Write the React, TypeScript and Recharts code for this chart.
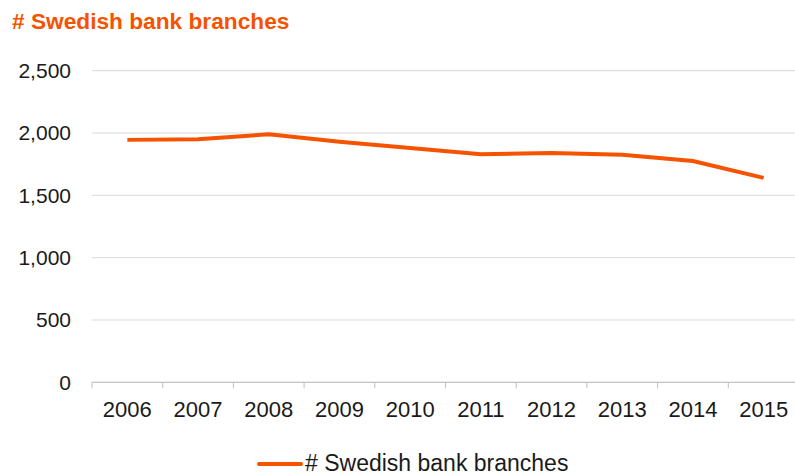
import React from 'react';
import { LineChart, Line, XAxis, YAxis, CartesianGrid } from 'recharts';

const years = ['2006', '2007', '2008', '2009', '2010', '2011', '2012', '2013', '2014', '2015'];
const branches = [1945, 1950, 1990, 1930, 1880, 1830, 1840, 1825, 1775, 1640];
const yTicks = [0, 500, 1000, 1500, 2000, 2500];
const seriesName = '# Swedish bank branches';
const title = '# Swedish bank branches';

const data = years.map((y, i) => ({ year: y, value: branches[i] }));

const ORANGE = '#F55300';
const FONT = '"Liberation Sans", Arial, sans-serif';

const XTick = (props: any) => {
  const { x, y, payload, width, visibleTicksCount, index } = props;
  const band = width / visibleTicksCount;
  const axisY = y - 19;
  return (
    <g>
      <line x1={x - band / 2} x2={x - band / 2} y1={axisY} y2={axisY + 6} stroke="#bfbfbf" />
      {index === visibleTicksCount - 1 && (
        <line x1={x + band / 2} x2={x + band / 2} y1={axisY} y2={axisY + 6} stroke="#bfbfbf" />
      )}
      <text x={x} y={y} dy="0.71em" textAnchor="middle" fontSize={22} fill="#1a1a1a" fontFamily={FONT}>
        {payload.value}
      </text>
    </g>
  );
};

export default function App() {
  return (
    <div style={{ position: 'fixed', left: 0, top: 0, width: 795, height: 474, overflow: 'hidden', background: '#fff', fontFamily: FONT }}>
      <div style={{ position: 'absolute', left: 12, top: 8, fontSize: 22.7, lineHeight: '26px', fontWeight: 'bold', color: ORANGE, whiteSpace: 'nowrap' }}>
        {title}
      </div>
      <LineChart width={800} height={474} data={data} margin={{ top: 70.7, right: 1, left: 0, bottom: 61.7 }}>
        <CartesianGrid vertical={false} stroke="#d9d9d9" />
        <XAxis
          dataKey="year"
          scale="band"
          height={30}
          tickLine={false}
          axisLine={{ stroke: '#bfbfbf' }}
          tickSize={6}
          tickMargin={13}
          tick={<XTick />}
          interval={0}
        />
        <YAxis
          width={92}
          domain={[0, 2500]}
          ticks={yTicks}
          axisLine={false}
          tickLine={false}
          tickSize={6}
          tickMargin={15}
          tickFormatter={(v: number) => v.toLocaleString('en-US')}
          tick={{ fontSize: 21, fill: '#1a1a1a', fontFamily: FONT }}
        />
        <Line
          type="linear"
          dataKey="value"
          name={seriesName}
          stroke={ORANGE}
          strokeWidth={4}
          dot={false}
          isAnimationActive={false}
        />
      </LineChart>
      <div style={{ position: 'absolute', left: 257, top: 453, height: 21, display: 'flex', alignItems: 'center', fontSize: 23, lineHeight: '21px', color: '#1a1a1a', whiteSpace: 'nowrap' }}>
        <span style={{ display: 'inline-block', width: 46, height: 4, background: ORANGE, borderRadius: 2, marginRight: 2 }} />
        <span>{seriesName}</span>
      </div>
    </div>
  );
}
